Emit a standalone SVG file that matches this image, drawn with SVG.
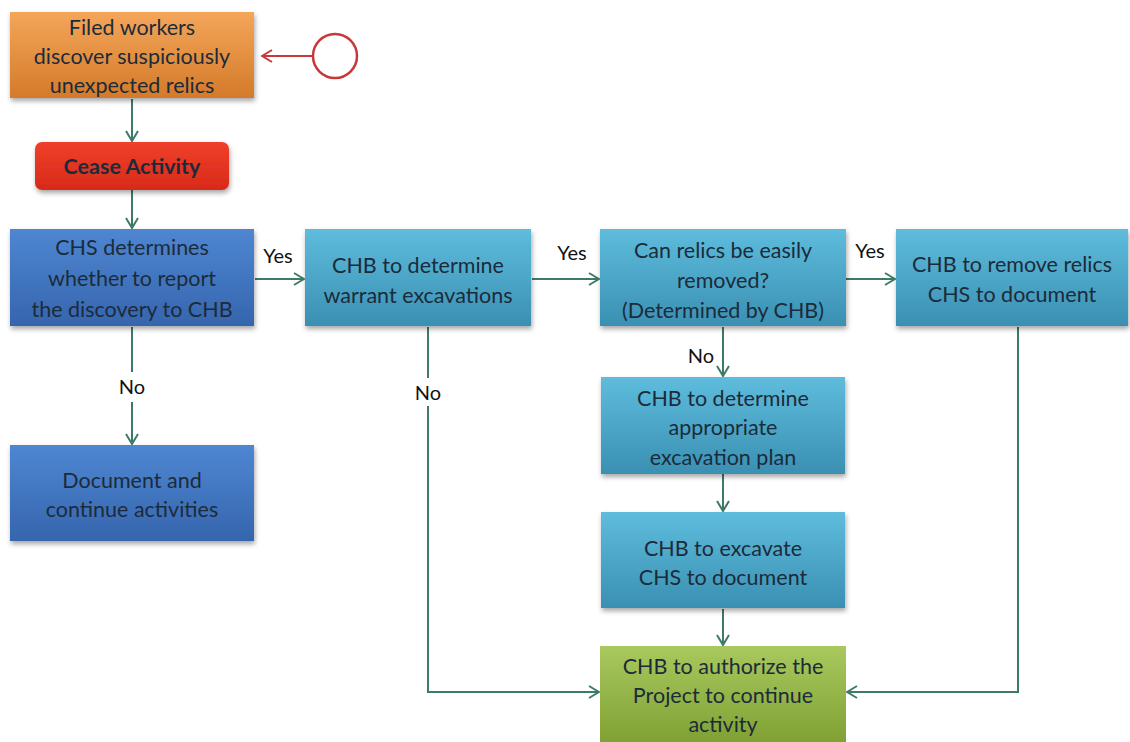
<svg xmlns="http://www.w3.org/2000/svg" width="1130" height="742" viewBox="0 0 1130 742">
<defs>
<linearGradient id="gOrange" x1="0" y1="0" x2="0" y2="1"><stop offset="0" stop-color="#f4a65a"/><stop offset="1" stop-color="#d47a2a"/></linearGradient>
<linearGradient id="gRed" x1="0" y1="0" x2="0" y2="1"><stop offset="0" stop-color="#f0402a"/><stop offset="1" stop-color="#d82a18"/></linearGradient>
<linearGradient id="gBlue" x1="0" y1="0" x2="0" y2="1"><stop offset="0" stop-color="#4f86d2"/><stop offset="1" stop-color="#3565ad"/></linearGradient>
<linearGradient id="gTeal" x1="0" y1="0" x2="0" y2="1"><stop offset="0" stop-color="#5ebcdc"/><stop offset="1" stop-color="#3a90b2"/></linearGradient>
<linearGradient id="gGreen" x1="0" y1="0" x2="0" y2="1"><stop offset="0" stop-color="#a9c95e"/><stop offset="1" stop-color="#7e9f32"/></linearGradient>
<filter id="sh" x="-10%" y="-10%" width="125%" height="130%"><feDropShadow dx="1" dy="3" stdDeviation="2.5" flood-color="#000" flood-opacity="0.35"/></filter>
<marker id="arr" viewBox="0 0 12 14" refX="11" refY="7" markerWidth="12" markerHeight="14" markerUnits="userSpaceOnUse" orient="auto"><path d="M1,1 L11,7 L1,13" fill="none" stroke="#3d7a6a" stroke-width="2"/></marker>
<marker id="arrR" viewBox="0 0 12 14" refX="11" refY="7" markerWidth="12" markerHeight="14" markerUnits="userSpaceOnUse" orient="auto"><path d="M1,1 L11,7 L1,13" fill="none" stroke="#c8383a" stroke-width="2"/></marker>
<style>
text{font-family:Lato,"Open Sans","Liberation Sans",sans-serif;font-size:21.5px;fill:#1c2b3a;text-anchor:middle;dominant-baseline:central}
.lbl{fill:#111;font-size:20px}
.con{fill:none;stroke:#3d7a6a;stroke-width:2}
</style>
</defs>
<g id="connectors">
<line class="con" x1="132" y1="99" x2="132" y2="141" marker-end="url(#arr)"/>
<line class="con" x1="132" y1="190" x2="132" y2="228" marker-end="url(#arr)"/>
<line class="con" x1="132" y1="327" x2="132" y2="372"/>
<line class="con" x1="132" y1="402" x2="132" y2="444" marker-end="url(#arr)"/>
<line class="con" x1="255" y1="279" x2="304" y2="279" marker-end="url(#arr)"/>
<line class="con" x1="532" y1="279" x2="599" y2="279" marker-end="url(#arr)"/>
<line class="con" x1="846" y1="279" x2="895" y2="279" marker-end="url(#arr)"/>
<line class="con" x1="723" y1="327" x2="723" y2="376" marker-end="url(#arr)"/>
<line class="con" x1="723" y1="474" x2="723" y2="511" marker-end="url(#arr)"/>
<line class="con" x1="723" y1="609" x2="723" y2="645" marker-end="url(#arr)"/>
<polyline class="con" points="428,327 428,378"/>
<polyline class="con" points="428,406 428,692 599,692" marker-end="url(#arr)"/>
<polyline class="con" points="1018,327 1018,692 847,692" marker-end="url(#arr)"/>
<line x1="313" y1="56" x2="262" y2="56" stroke="#c8383a" stroke-width="2" marker-end="url(#arrR)"/>
<text class="lbl" x="278" y="255">Yes</text>
<text class="lbl" x="572" y="252">Yes</text>
<text class="lbl" x="870" y="250">Yes</text>
<text class="lbl" x="132" y="386">No</text>
<text class="lbl" x="428" y="392">No</text>
<text class="lbl" x="701" y="355">No</text>
</g>
<g id="start"><circle cx="335" cy="56" r="22" fill="#fff" stroke="#c8383a" stroke-width="2.5"/></g>
<g id="discover"><rect x="10" y="12" width="244" height="86" fill="url(#gOrange)" filter="url(#sh)"/>
<text x="132" y="27">Filed workers</text><text x="132" y="56">discover suspiciously</text><text x="132" y="85">unexpected relics</text></g>
<g id="cease"><rect x="35" y="142" width="194" height="48" rx="7" fill="url(#gRed)" filter="url(#sh)"/>
<text x="132" y="166" style="font-weight:bold">Cease Activity</text></g>
<g id="chs"><rect x="10" y="229" width="244" height="97" fill="url(#gBlue)" filter="url(#sh)"/>
<text x="132" y="247">CHS determines</text><text x="132" y="278">whether to report</text><text x="132" y="309">the discovery to CHB</text></g>
<g id="document"><rect x="10" y="445" width="244" height="96" fill="url(#gBlue)" filter="url(#sh)"/>
<text x="132" y="480">Document and</text><text x="132" y="509">continue activities</text></g>
<g id="warrant"><rect x="305" y="229" width="226" height="97" fill="url(#gTeal)" filter="url(#sh)"/>
<text x="418" y="265">CHB to determine</text><text x="418" y="295">warrant excavations</text></g>
<g id="canremove"><rect x="600" y="229" width="246" height="97" fill="url(#gTeal)" filter="url(#sh)"/>
<text x="723" y="250">Can relics be easily</text><text x="723" y="280">removed?</text><text x="723" y="310">(Determined by CHB)</text></g>
<g id="remove"><rect x="896" y="229" width="232" height="97" fill="url(#gTeal)" filter="url(#sh)"/>
<text x="1012" y="264">CHB to remove relics</text><text x="1012" y="294">CHS to document</text></g>
<g id="plan"><rect x="601" y="377" width="244" height="97" fill="url(#gTeal)" filter="url(#sh)"/>
<text x="723" y="398">CHB to determine</text><text x="723" y="427">appropriate</text><text x="723" y="457">excavation plan</text></g>
<g id="excavate"><rect x="601" y="512" width="244" height="96" fill="url(#gTeal)" filter="url(#sh)"/>
<text x="723" y="548">CHB to excavate</text><text x="723" y="577">CHS to document</text></g>
<g id="authorize"><rect x="600" y="646" width="246" height="100" fill="url(#gGreen)"/>
<text x="723" y="666">CHB to authorize the</text><text x="723" y="695">Project to continue</text><text x="723" y="724">activity</text></g>
</svg>
